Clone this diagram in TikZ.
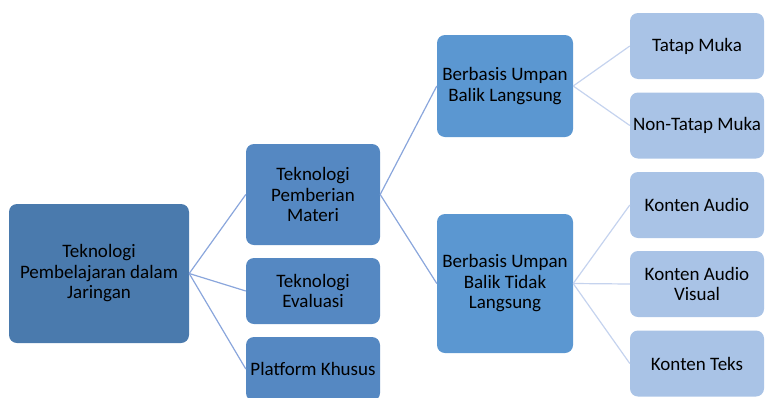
\documentclass[tikz,border=0pt]{standalone}
\usepackage{fontspec}
\setmainfont{Carlito}
\usepackage{tikz}
\usepackage{xcolor}
\usetikzlibrary{shapes, positioning}

\definecolor{rootblue}{HTML}{4A7AAD}
\definecolor{midblue}{HTML}{5588C2}
\definecolor{brightblue}{HTML}{5B97D1}
\definecolor{paleblue}{HTML}{A9C3E6}
\definecolor{linkblue}{HTML}{8AA6DC}
\definecolor{palelink}{HTML}{C5D3EE}

\begin{document}
\begin{tikzpicture}[x=1pt, y=-1pt,
        box/.style={rectangle, rounded corners=8pt, align=center, inner sep=0pt, font=\fontsize{19}{20.5}\selectfont, text=black},
        rootbox/.style={box, fill=rootblue, minimum width=180pt, minimum height=139pt},
        midbox/.style={box, fill=midblue, minimum width=134pt},
        upbox/.style={box, fill=brightblue, minimum width=136pt},
        leafbox/.style={box, fill=paleblue, minimum width=134pt, minimum height=66pt},
        link/.style={draw=linkblue, line width=1.2pt},
        leaflink/.style={draw=palelink, line width=1.2pt}]
        \useasboundingbox (0, 0) rectangle (765, 397);
        \clip (0, 0) rectangle (765, 397);

        \node[rootbox] (root) at (99, 273.5) {Teknologi\\Pembelajaran dalam\\Jaringan};

        \node[midbox, minimum height=101pt] (t1) at (313, 194.5) {Teknologi\\Pemberian\\Materi};
        \node[midbox, minimum height=66pt] (t2) at (313, 291) {Teknologi\\Evaluasi};
        \node[midbox, minimum height=64pt] (t3) at (313, 369) {Platform Khusus};

        \node[upbox, minimum height=102pt] (u1) at (505, 86) {Berbasis Umpan\\Balik Langsung};
        \node[upbox, minimum height=139pt] (u2) at (505, 283.5) {Berbasis Umpan\\Balik Tidak\\Langsung};

        \node[leafbox] (k1) at (697, 46) {Tatap Muka};
        \node[leafbox] (k2) at (697, 125.5) {Non-Tatap Muka};
        \node[leafbox] (k3) at (697, 205) {Konten Audio};
        \node[leafbox] (k4) at (697, 284) {Konten Audio\\Visual};
        \node[leafbox] (k5) at (697, 363.5) {Konten Teks};

        \draw[link] (root.east) -- (t1.west);
        \draw[link] (root.east) -- (t2.west);
        \draw[link] (root.east) -- (t3.west);
        \draw[link] (t1.east) -- (u1.west);
        \draw[link] (t1.east) -- (u2.west);
        \draw[leaflink] (u1.east) -- (k1.west);
        \draw[leaflink] (u1.east) -- (k2.west);
        \draw[leaflink] (u2.east) -- (k3.west);
        \draw[leaflink] (u2.east) -- (k4.west);
        \draw[leaflink] (u2.east) -- (k5.west);
    \end{tikzpicture}
\end{document}
